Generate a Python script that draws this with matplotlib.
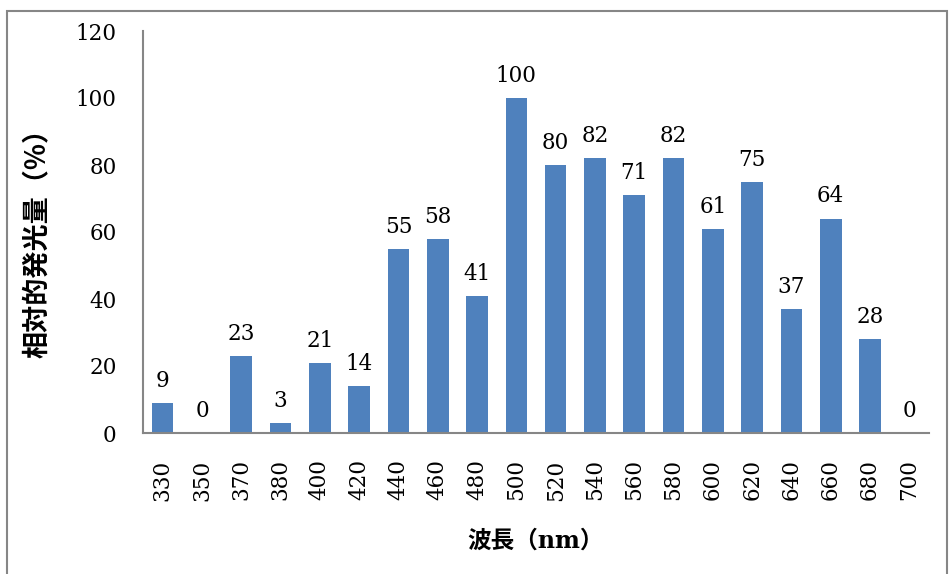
import matplotlib.pyplot as plt
import numpy as np

plt.rcParams['font.family'] = ['DejaVu Serif', 'Noto Sans CJK JP']

wavelengths = ['330', '350', '370', '380', '400', '420', '440', '460', '480', '500',
               '520', '540', '560', '580', '600', '620', '640', '660', '680', '700']
values = [9, 0, 23, 3, 21, 14, 55, 58, 41, 100, 80, 82, 71, 82, 61, 75, 37, 64, 28, 0]

fig = plt.figure(figsize=(9.52, 5.74), dpi=100)
ax = fig.add_axes([143 / 952, 1 - 433 / 574, (929 - 143) / 952, (433 - 31) / 574])

x = np.arange(len(wavelengths))
bars = ax.bar(x, values, width=0.55, color='#4F81BD')
ax.bar_label(bars, labels=[str(v) for v in values], padding=8, fontsize=15.5)

ax.set_xlim(-0.5, len(wavelengths) - 0.5)
ax.set_ylim(0, 120)
ax.set_yticks(range(0, 121, 20))
ax.set_xticks(x)
ax.set_xticklabels(wavelengths, rotation=90)
ax.tick_params(axis='both', length=0, labelsize=15.5)
ax.tick_params(axis='x', pad=19)
ax.tick_params(axis='y', pad=19)

for side in ['top', 'right']:
    ax.spines[side].set_visible(False)
for side in ['left', 'bottom']:
    ax.spines[side].set_color('#868686')
    ax.spines[side].set_linewidth(1.5)

ax.set_ylabel('相対的発光量（%）', family=['Noto Sans CJK JP'], fontweight='bold', fontsize=19.5)
ax.yaxis.set_label_coords(-92 / 786, 0.49)
ax.set_xlabel('波長（nm）', family=['DejaVu Serif', 'Noto Sans CJK JP'], fontweight='bold', fontsize=17)
ax.xaxis.set_label_coords(0.5, -96 / 402)

# chart frame
fig.patches.append(plt.Rectangle((7 / 952, -0.01), 940 / 952, 1 - 11 / 574 + 0.01,
                                 transform=fig.transFigure, fill=False,
                                 edgecolor='#868686', linewidth=1.5))

fig.savefig('out.png', dpi=100)
